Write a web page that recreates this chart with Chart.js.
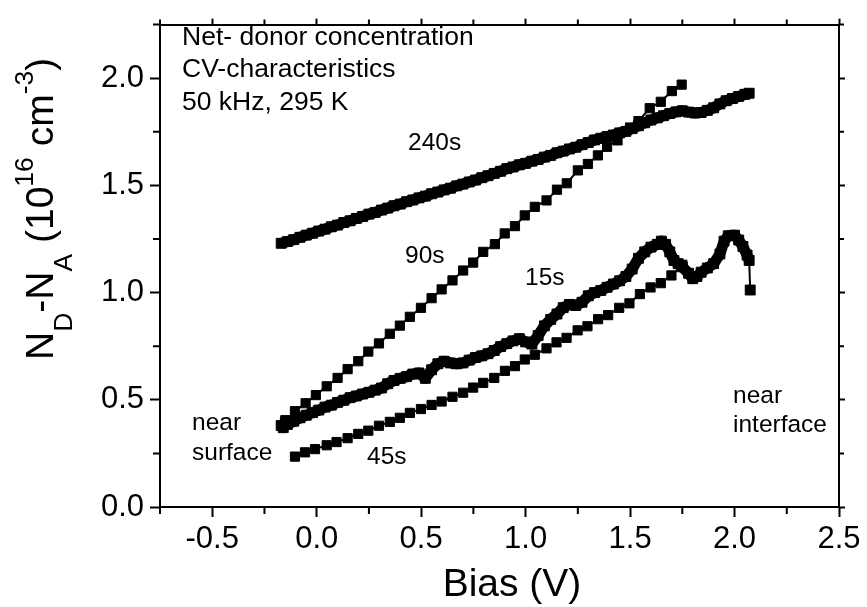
<!DOCTYPE html>
<html>
<head>
<meta charset="utf-8">
<script src="https://cdn.jsdelivr.net/npm/chart.js@4"></script>
<style>
  html, body { margin: 0; padding: 0; background: #fff; }
  #wrap { width: 867px; height: 607px; }
</style>
</head>
<body>
<div id="wrap"><canvas id="c" width="867" height="607"></canvas></div>
<script>
// ---- data ----
const bias240 = [-0.17,-0.14,-0.11,-0.08,-0.05,-0.02,0.01,0.04,0.07,0.10,
  0.13,0.16,0.19,0.22,0.25,0.28,0.31,0.34,0.37,0.40,
  0.43,0.46,0.49,0.52,0.55,0.58,0.61,0.64,0.67,0.70,
  0.73,0.76,0.79,0.82,0.85,0.88,0.91,0.94,0.97,1.00,
  1.03,1.06,1.09,1.12,1.15,1.18,1.21,1.24,1.27,1.30,
  1.33,1.36,1.39,1.42,1.45,1.48,1.51,1.54,1.57,1.60,
  1.63,1.66,1.69,1.72,1.75,1.78,1.81,1.84,1.87,1.90,
  1.93,1.96,1.99,2.02,2.05,2.07];
const nd240 = [1.230,1.238,1.247,1.258,1.268,1.277,1.287,1.296,1.307,1.315,
  1.327,1.335,1.346,1.355,1.366,1.374,1.385,1.394,1.405,1.413,
  1.424,1.432,1.442,1.450,1.461,1.469,1.479,1.487,1.498,1.506,
  1.516,1.525,1.536,1.545,1.556,1.566,1.578,1.586,1.596,1.603,
  1.613,1.621,1.632,1.640,1.652,1.660,1.670,1.678,1.690,1.700,
  1.712,1.720,1.728,1.735,1.745,1.752,1.765,1.778,1.792,1.805,
  1.815,1.825,1.835,1.843,1.848,1.842,1.838,1.840,1.850,1.862,
  1.880,1.895,1.905,1.915,1.925,1.930];

const bias90 = [-0.150,-0.104,-0.053,-0.004,0.048,0.100,0.148,0.199,0.247,0.298,
  0.350,0.398,0.446,0.499,0.550,0.598,0.650,0.701,0.749,0.797,
  0.853,0.900,0.949,0.996,1.044,1.100,1.150,1.197,1.250,1.298,
  1.346,1.390,1.440,1.500,1.540,1.594,1.647,1.700,1.747];
const nd90 = [0.405,0.447,0.484,0.522,0.563,0.602,0.643,0.680,0.725,0.763,
  0.808,0.846,0.887,0.929,0.974,1.015,1.057,1.103,1.140,1.190,
  1.226,1.276,1.310,1.360,1.400,1.430,1.480,1.510,1.570,1.600,
  1.640,1.680,1.710,1.770,1.800,1.860,1.890,1.940,1.970];

const bias45 = [-0.104,-0.056,-0.008,0.048,0.095,0.148,0.199,0.247,0.298,0.350,
  0.398,0.446,0.499,0.550,0.598,0.650,0.701,0.749,0.797,0.850,
  0.901,0.949,0.996,1.044,1.100,1.148,1.196,1.249,1.296,1.347,
  1.395,1.448,1.497,1.547,1.598,1.647,1.698,1.750];
const nd45 = [0.235,0.255,0.270,0.288,0.303,0.321,0.341,0.356,0.379,0.397,
  0.416,0.439,0.457,0.476,0.492,0.514,0.533,0.557,0.579,0.602,
  0.635,0.657,0.688,0.710,0.740,0.768,0.789,0.824,0.843,0.876,
  0.895,0.929,0.950,0.993,1.024,1.044,1.080,1.130];

const bias15 = [-0.17,-0.16,-0.15,-0.14,
  -0.11,-0.08,-0.05,-0.02,0.01,0.04,0.07,0.10,0.13,0.16,
  0.19,0.22,0.25,0.28,0.31,0.34,0.37,0.40,0.43,0.46,
  0.49,0.52,0.55,0.58,0.61,0.64,0.67,0.70,0.73,0.76,
  0.79,0.82,0.85,0.88,0.91,0.94,0.97,
  1.00,1.03,1.06,1.09,1.12,1.15,1.18,1.21,1.24,1.27,
  1.30,1.33,1.36,1.39,1.42,1.45,1.48,1.51,1.54,1.57,
  1.60,1.63,
  1.65,1.67,1.69,1.71,1.73,1.75,
  1.78,1.80,1.82,1.84,
  1.87,1.90,1.93,
  1.95,1.97,
  2.00,2.02,2.04,2.06,2.07,2.075];
const nd15 = [0.38,0.37,0.395,0.385,
  0.400,0.416,0.428,0.440,0.452,0.466,0.475,0.488,0.498,0.510,
  0.518,0.527,0.535,0.545,0.555,0.575,0.590,0.600,0.608,0.620,
  0.625,0.600,0.640,0.668,0.680,0.672,0.668,0.672,0.685,0.697,
  0.705,0.715,0.730,0.748,0.762,0.775,0.785,
  0.770,0.760,0.800,0.845,0.875,0.900,0.930,0.945,0.940,0.955,
  0.985,1.000,1.010,1.025,1.040,1.055,1.075,1.110,1.160,1.190,
  1.212,1.225,
  1.240,1.225,1.190,1.150,1.135,1.120,
  1.090,1.065,1.075,1.095,
  1.115,1.135,1.180,
  1.240,1.265,
  1.268,1.245,1.215,1.175,1.150,1.012];

const xMajorStep = 0.5, yMajorStep = 0.5;
const xMinorTicks = [-0.75,-0.25,0.25,0.75,1.25,1.75,2.25];
const yMinorTicks = [0.25,0.75,1.25,1.75,2.25];
const xRange = [-0.75, 2.5];
const yRange = [0, 2.25];

const infoLines = ['Net- donor concentration', 'CV-characteristics', '50 kHz, 295 K'];
const seriesLabels = ['240s', '90s', '15s', '45s'];
const edgeLabels = [['near', 'surface'], ['near', 'interface']];
const xTitle = 'Bias (V)';

// ---- chart ----
const FONT = "'Liberation Sans', Arial, Helvetica, sans-serif";
function pts(xs, ys) { return xs.map((v, i) => ({x: v, y: ys[i]})); }
function ds(label, xs, ys, dense) {
  return {
    label, data: pts(xs, ys), showLine: true,
    borderColor: '#000', borderWidth: dense ? 11 : 2,
    borderJoinStyle: 'round',
    segment: dense ? {
      borderWidth: c => Math.abs(c.p1.parsed.y - c.p0.parsed.y) > 0.08 ? 2 : 11
    } : undefined,
    pointStyle: 'rect', pointRadius: dense ? 7 : 6.5, pointHoverRadius: 6.5,
    pointBackgroundColor: '#000', pointBorderColor: '#000', pointBorderWidth: 1
  };
}

const decor = {
  id: 'decor',
  afterDraw(chart) {
    const ctx = chart.ctx;
    const {x, y, x2, y2} = chart.scales;
    ctx.save();
    ctx.strokeStyle = '#000';
    ctx.lineWidth = 2;
    ctx.beginPath();
    for (const v of xMinorTicks) {
      const p = x.getPixelForValue(v);
      ctx.moveTo(p, x.top); ctx.lineTo(p, x.top + 7);
      ctx.moveTo(p, x2.bottom); ctx.lineTo(p, x2.bottom - 5);
    }
    for (const v of yMinorTicks) {
      const p = y.getPixelForValue(v);
      ctx.moveTo(y.right, p); ctx.lineTo(y.right - 7, p);
      ctx.moveTo(y2.left, p); ctx.lineTo(y2.left + 5, p);
    }
    ctx.stroke();

    ctx.fillStyle = '#000';
    ctx.textBaseline = 'alphabetic';
    ctx.textAlign = 'left';
    ctx.font = `26.5px ${FONT}`;
    ctx.fillText(infoLines[0], 182, 45);
    ctx.fillText(infoLines[1], 182, 77);
    ctx.fillText(infoLines[2], 182, 110);

    ctx.font = `24.5px ${FONT}`;
    ctx.fillText(seriesLabels[0], 408, 150);
    ctx.fillText(seriesLabels[1], 405, 263);
    ctx.fillText(seriesLabels[2], 525, 285);
    ctx.fillText(seriesLabels[3], 367, 464);
    ctx.fillText(edgeLabels[0][0], 192, 430);
    ctx.fillText(edgeLabels[0][1], 192, 460);
    ctx.fillText(edgeLabels[1][0], 733, 403);
    ctx.fillText(edgeLabels[1][1], 733, 432);

    // x title
    ctx.font = `39px ${FONT}`;
    ctx.textAlign = 'center';
    ctx.fillText(xTitle, 512, 596);

    // y title with sub/superscripts
    ctx.translate(53, 360);
    ctx.rotate(-Math.PI / 2);
    ctx.textAlign = 'left';
    const segs = [
      ['N', 39, 0], ['D', 26.5, 19], ['-N', 39, 0], ['A', 26.5, 19],
      [' (10', 39, 0], ['16', 26.5, -20], [' cm', 39, 0], ['-3', 26.5, -20], [')', 39, 0]
    ];
    let cx = 0;
    for (const [t, sz, off] of segs) {
      ctx.font = `${sz}px ${FONT}`;
      ctx.fillText(t, cx, off);
      cx += ctx.measureText(t).width;
    }
    ctx.restore();
  }
};

const tickFont = {family: FONT, size: 31};
const axisBorder = {display: true, color: '#000', width: 2};

new Chart(document.getElementById('c'), {
  type: 'scatter',
  data: {
    datasets: [
      ds('240s', bias240, nd240, true),
      ds('90s', bias90, nd90, false),
      ds('45s', bias45, nd45, false),
      ds('15s', bias15, nd15, true)
    ]
  },
  options: {
    responsive: false,
    animation: false,
    events: [],
    layout: {padding: 0},
    plugins: {legend: {display: false}, tooltip: {enabled: false}, title: {display: false}},
    scales: {
      x: {
        type: 'linear', position: 'bottom', min: xRange[0], max: xRange[1],
        afterFit: s => { s.height = 100; },
        border: axisBorder,
        grid: {drawOnChartArea: false, drawTicks: true, tickLength: 10, tickWidth: 2, tickColor: '#000'},
        ticks: {stepSize: xMajorStep, includeBounds: false, color: '#000', font: tickFont, padding: 4,
          maxRotation: 0, autoSkip: false, callback: v => v.toFixed(1)}
      },
      x2: {
        type: 'linear', position: 'top', min: xRange[0], max: xRange[1],
        afterFit: s => { s.height = 9; },
        border: axisBorder,
        grid: {drawOnChartArea: false, drawTicks: true, tickLength: 6, tickWidth: 2, tickColor: '#000'},
        ticks: {stepSize: xMajorStep, includeBounds: false, display: false}
      },
      y: {
        type: 'linear', position: 'left', min: yRange[0], max: yRange[1],
        afterFit: s => { s.width = 160; },
        border: axisBorder,
        grid: {drawOnChartArea: false, drawTicks: true, tickLength: 10, tickWidth: 2, tickColor: '#000'},
        ticks: {stepSize: yMajorStep, includeBounds: false, color: '#000', font: tickFont, padding: 6,
          autoSkip: false, callback: v => v.toFixed(1)}
      },
      y2: {
        type: 'linear', position: 'right', min: yRange[0], max: yRange[1],
        afterFit: s => { s.width = 28; },
        border: axisBorder,
        grid: {drawOnChartArea: false, drawTicks: true, tickLength: 6, tickWidth: 2, tickColor: '#000'},
        ticks: {stepSize: yMajorStep, includeBounds: false, display: false}
      }
    }
  },
  plugins: [decor]
});
</script>
</body>
</html>
